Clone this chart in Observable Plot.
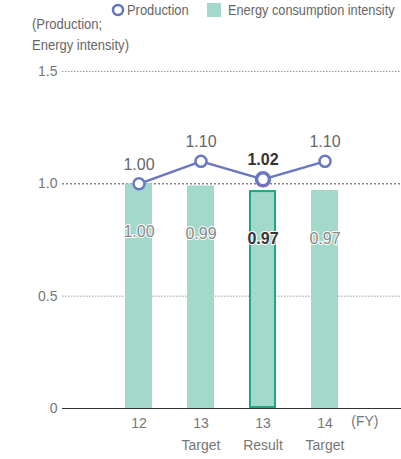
<!DOCTYPE html>
<html>
<head>
<meta charset="utf-8">
<script src="https://cdn.jsdelivr.net/npm/d3@7"></script>
<script src="https://cdn.jsdelivr.net/npm/@observablehq/plot@0.6"></script>
<style>
  html, body { margin: 0; padding: 0; background: #fff; }
  body { font-family: "Liberation Sans", sans-serif; }
  #wrap { position: relative; width: 401px; height: 459px; overflow: hidden; }
  #head { position: relative; width: 401px; height: 58px; }
  .abs { position: absolute; white-space: nowrap; color: #666; font-size: 15px; line-height: 20px; transform-origin: 0 50%; }
  svg { display: block; }
</style>
</head>
<body>
<div id="wrap">
  <div id="head">
    <svg style="position:absolute;left:110px;top:2px" width="16" height="16"><circle cx="8" cy="8" r="5" fill="#fff" stroke="#5f73c0" stroke-width="2.5"/></svg>
    <div class="abs" style="left:127px;top:0px;transform:scaleX(0.86)">Production</div>
    <div style="position:absolute;left:207px;top:3px;width:14px;height:14px;background:#a3d9cb"></div>
    <div class="abs" style="left:228px;top:0px;transform:scaleX(0.85)">Energy consumption intensity</div>
    <div class="abs" style="left:32px;top:14px;font-size:14px;line-height:21px;transform:scaleX(0.93);transform-origin:0 0">(Production;<br>Energy intensity)</div>
  </div>
  <div id="chart"></div>
</div>
<script>
const categories = ["12", "13\nTarget", "13\nResult", "14\nTarget"];
const production = [1.00, 1.10, 1.02, 1.10];
const energy = [1.00, 0.99, 0.97, 0.97];
const highlighted = "13\nResult";
const yTicks = [0, 0.5, 1.0, 1.5];

const data = categories.map((c, i) => ({cat: c, production: production[i], energy: energy[i], hi: c === highlighted}));
const norm = data.filter(d => !d.hi);
const hi = data.filter(d => d.hi);

const font = "Liberation Sans, sans-serif";

const chart = Plot.plot({
  width: 401,
  height: 401,
  marginTop: 13,
  marginBottom: 51,
  marginLeft: 62,
  marginRight: 0,
  style: {fontFamily: font, fontSize: "14px", background: "transparent"},
  x: {domain: categories, range: [92, 371], paddingInner: 0.57, paddingOuter: 0.5},
  y: {domain: [0, 1.5]},
  marks: [
    Plot.ruleY([0.5, 1.5], {stroke: "#999", strokeDasharray: "1.5,1.5", strokeWidth: 1}),
    Plot.ruleY([1.0], {stroke: "#444", strokeDasharray: "2,2", strokeWidth: 1}),
    Plot.barY(norm, {x: "cat", y: "energy", fill: "#a3d9cb"}),
    Plot.barY(hi, {x: "cat", y: "energy", fill: "#a3d9cb", stroke: "#1ea882", strokeWidth: 2, inset: 1}),
    Plot.ruleY([0], {stroke: "#333", strokeWidth: 1.2}),
    Plot.axisY({ticks: yTicks, tickSize: 0, tickPadding: 5, tickFormat: d => d === 0 ? "0" : d.toFixed(1), fill: "#777", fontSize: 14, label: null}),
    Plot.axisX({tickSize: 0, tickPadding: 4, lineHeight: 1.55, fill: "#777", fontSize: 14, label: null}),
    Plot.text(["(FY)"], {frameAnchor: "bottom-right", dx: -23, dy: 17, fill: "#777", fontSize: 14, textAnchor: "end"}),
    Plot.text(norm, {x: "cat", y: "energy", text: d => d.energy.toFixed(2), dy: 48, fill: "#888", stroke: "#fff", strokeWidth: 2, fontSize: 16}),
    Plot.text(hi, {x: "cat", y: "energy", text: d => d.energy.toFixed(2), dy: 48, fill: "#333", stroke: "#fff", strokeWidth: 2, fontSize: 16, fontWeight: "bold"}),
    Plot.line(data, {x: "cat", y: "production", stroke: "#6878c2", strokeWidth: 2.5}),
    Plot.dot(norm, {x: "cat", y: "production", r: 5.5, fill: "#fff", stroke: "#6878c2", strokeWidth: 2.5}),
    Plot.dot(hi, {x: "cat", y: "production", r: 6.5, fill: "#fff", stroke: "#6878c2", strokeWidth: 3.5}),
    Plot.text(norm, {x: "cat", y: "production", text: d => d.production.toFixed(2), dy: -19, fill: "#666", fontSize: 16}),
    Plot.text(hi, {x: "cat", y: "production", text: d => d.production.toFixed(2), dy: -19, fill: "#333", fontSize: 16, fontWeight: "bold"})
  ]
});
document.getElementById("chart").appendChild(chart);
</script>
</body>
</html>
